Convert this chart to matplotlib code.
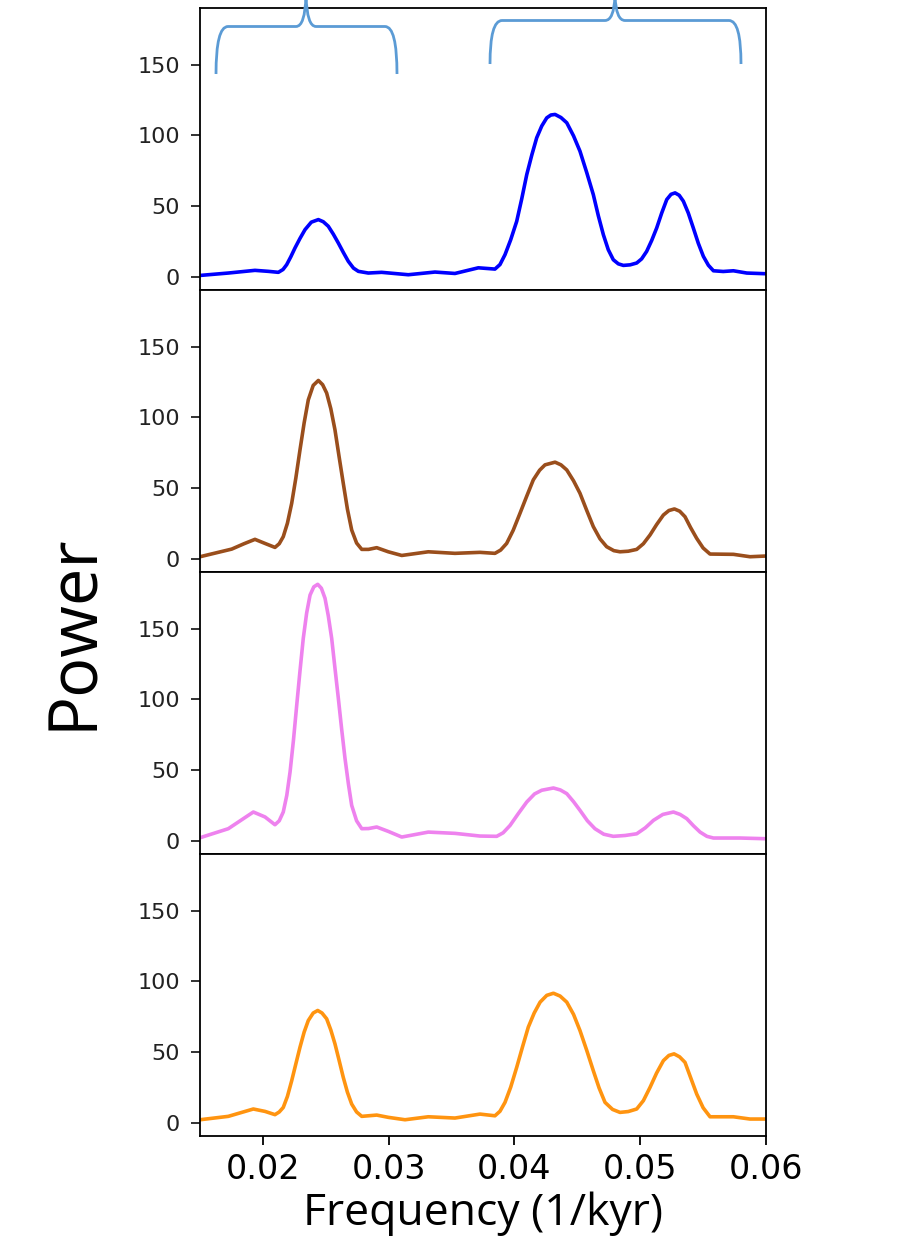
import matplotlib
matplotlib.use("Agg")
import matplotlib.pyplot as plt
from matplotlib.path import Path
from matplotlib.patches import PathPatch

# frequencies (1/kyr) and power
freq_blue = [0.015, 0.01725, 0.01937, 0.02043, 0.02123, 0.0216, 0.02189, 0.02222, 0.02255,
             0.02295, 0.02335, 0.02385, 0.02441, 0.0248, 0.0252, 0.0256, 0.026, 0.0264,
             0.02679, 0.0272, 0.02759, 0.02838, 0.02944, 0.03156, 0.03368, 0.03527, 0.03713,
             0.03845, 0.03885, 0.03925, 0.0397, 0.04018, 0.04058, 0.04098, 0.04138, 0.04177,
             0.04217, 0.04257, 0.0429, 0.04323, 0.0437, 0.04416, 0.0447, 0.04521, 0.04575,
             0.04627, 0.04667, 0.04707, 0.04746, 0.04786, 0.04826, 0.04866, 0.0492, 0.04972,
             0.05011, 0.05051, 0.05091, 0.05131, 0.05171, 0.05211, 0.05245, 0.05277, 0.0531,
             0.05343, 0.05382, 0.05422, 0.05462, 0.05502, 0.05542, 0.05582, 0.0566, 0.05741,
             0.05847, 0.06]
power_blue = [0.8, 2.5, 4.4, 3.7, 3.0, 5.0, 8.4, 14.0, 20.2,
              27.0, 33.2, 38.5, 40.3, 38.8, 35.6, 30.0, 23.7, 17.0,
              10.8, 6.0, 3.7, 2.5, 3.0, 1.3, 3.2, 2.2, 6.2,
              5.3, 8.5, 15.5, 26.0, 39.1, 55.0, 72.2, 86.0, 98.2,
              106.5, 112.3, 114.3, 114.7, 112.5, 108.8, 99.5, 88.7, 73.5,
              58.0, 43.0, 29.6, 19.0, 11.9, 9.0, 7.9, 8.3, 9.6,
              12.5, 17.8, 25.5, 34.4, 45.0, 54.5, 58.2, 59.2, 57.5,
              53.3, 45.0, 34.4, 23.5, 14.3, 8.0, 4.1, 3.6, 4.1,
              2.5, 2.0]

freq_brown = [0.015, 0.01752, 0.0185, 0.01937, 0.02017, 0.02096, 0.0213, 0.02162, 0.02195,
              0.02229, 0.02262, 0.02295, 0.02328, 0.02361, 0.024, 0.02441, 0.02475, 0.02507,
              0.0254, 0.02573, 0.02606, 0.02639, 0.02672, 0.02706, 0.02745, 0.02786, 0.0284,
              0.02905, 0.02997, 0.03104, 0.03315, 0.03527, 0.03726, 0.03845, 0.0389, 0.03938,
              0.0399, 0.04044, 0.04097, 0.0415, 0.042, 0.04243, 0.04323, 0.0437, 0.04416,
              0.0447, 0.04521, 0.04575, 0.04627, 0.0468, 0.04733, 0.0479, 0.04839, 0.04905,
              0.04972, 0.05025, 0.05078, 0.0513, 0.05184, 0.05228, 0.05272, 0.05314, 0.05356,
              0.054, 0.05449, 0.055, 0.05555, 0.05741, 0.05873, 0.06]
power_brown = [1.3, 6.7, 10.5, 13.6, 10.7, 7.9, 10.5, 15.5, 25.0,
               39.1, 57.0, 76.9, 96.0, 112.3, 122.5, 126.0, 123.0, 117.1,
               106.0, 91.1, 72.0, 53.3, 35.0, 20.2, 11.0, 6.5, 6.5,
               7.7, 4.8, 2.2, 4.8, 3.7, 4.4, 3.7, 6.0, 10.7,
               20.0, 32.0, 44.0, 55.7, 62.5, 66.3, 68.2, 66.3, 62.7,
               55.0, 46.2, 34.0, 22.6, 14.0, 8.4, 5.6, 4.8, 5.2,
               6.5, 10.5, 16.7, 24.0, 30.8, 34.0, 35.1, 33.5, 29.6,
               22.0, 14.3, 7.5, 3.2, 3.0, 1.3, 1.8]

freq_pink = [0.015, 0.01725, 0.01924, 0.02017, 0.02096, 0.0213, 0.02162, 0.0219, 0.02216,
             0.02243, 0.02269, 0.02295, 0.02321, 0.02348, 0.02375, 0.02405, 0.02436, 0.02465,
             0.02494, 0.0252, 0.02547, 0.02573, 0.026, 0.02626, 0.02653, 0.0268, 0.02706,
             0.02745, 0.02786, 0.0284, 0.02905, 0.02997, 0.03104, 0.03315, 0.03527, 0.03726,
             0.03859, 0.0391, 0.03965, 0.0403, 0.04098, 0.0416, 0.04217, 0.0431, 0.04365,
             0.04416, 0.0447, 0.04521, 0.0458, 0.0464, 0.0471, 0.04786, 0.0488, 0.04972,
             0.0504, 0.05105, 0.0518, 0.05264, 0.05317, 0.0537, 0.05423, 0.05476, 0.0553,
             0.05582, 0.05794, 0.06]
power_pink = [2.0, 8.4, 20.2, 16.7, 11.2, 14.0, 20.2, 32.0, 48.5,
              71.0, 95.8, 120.0, 143.0, 161.0, 173.7, 179.5, 181.3, 178.5,
              171.4, 159.0, 143.0, 122.0, 100.5, 79.0, 58.0, 40.0, 24.9,
              14.0, 8.4, 8.5, 9.6, 6.5, 2.5, 6.0, 5.1, 3.2,
              3.0, 5.5, 10.7, 19.0, 27.3, 33.0, 35.6, 37.2, 35.8,
              33.2, 27.5, 21.4, 14.0, 8.4, 4.5, 3.0, 3.6, 4.8,
              9.0, 14.3, 18.5, 20.2, 18.5, 15.5, 10.5, 6.0, 3.0,
              1.8, 1.8, 1.3]

freq_orange = [0.015, 0.01725, 0.01924, 0.02017, 0.02096, 0.0213, 0.02162, 0.02195, 0.02229,
               0.02262, 0.02295, 0.02328, 0.02361, 0.024, 0.02436, 0.0247, 0.02507, 0.0254,
               0.02573, 0.02606, 0.02639, 0.02672, 0.02706, 0.02745, 0.02786, 0.02905, 0.02997,
               0.0313, 0.03315, 0.03527, 0.03726, 0.03845, 0.03885, 0.03925, 0.0397, 0.04018,
               0.04064, 0.0411, 0.04157, 0.04204, 0.04257, 0.0431, 0.04363, 0.04416, 0.0447,
               0.04521, 0.04575, 0.04627, 0.04673, 0.0472, 0.0478, 0.04839, 0.04905, 0.04972,
               0.05025, 0.05078, 0.0513, 0.05184, 0.05228, 0.05269, 0.05313, 0.05356, 0.054,
               0.05449, 0.055, 0.05555, 0.05741, 0.05873, 0.06]
power_orange = [2.0, 4.4, 9.6, 7.9, 5.6, 7.5, 10.7, 18.5, 29.6,
                41.5, 53.3, 64.0, 72.2, 77.5, 79.3, 77.5, 73.4, 65.5,
                55.7, 44.0, 32.0, 21.5, 13.1, 7.5, 4.4, 5.3, 3.7,
                2.0, 4.1, 3.2, 6.0, 4.8, 8.0, 14.3, 25.0, 39.1,
                53.5, 67.5, 77.5, 85.2, 90.0, 91.5, 89.5, 85.2, 76.5,
                65.1, 51.0, 36.7, 24.5, 14.3, 9.3, 7.2, 7.8, 9.6,
                15.5, 24.9, 35.0, 43.8, 47.5, 48.6, 46.5, 42.6, 32.0,
                20.2, 10.5, 4.1, 4.1, 2.5, 2.5]

series = [(freq_blue, power_blue, "blue"),
          (freq_brown, power_brown, "#9a4e1c"),
          (freq_pink, power_pink, "violet"),
          (freq_orange, power_orange, "#ff9410")]

W, H = 924, 1254
fig, axes = plt.subplots(4, 1, sharex=True, sharey=True, figsize=(W / 100, H / 100), dpi=100)
fig.subplots_adjust(left=200 / W, right=766 / W, top=1 - 8 / H, bottom=1 - 1136 / H, hspace=0)

for ax, (f, p, c) in zip(axes, series):
    ax.plot(f, p, color=c, lw=2.6, solid_joinstyle="round")
    for s in ax.spines.values():
        s.set_linewidth(1.3)
    ax.tick_params(axis="y", labelsize=16, length=6.5, width=1.3, pad=8, colors="#222222")
    ax.tick_params(axis="x", labelsize=24, length=6.5, width=1.3, pad=6)
    ax.set_yticks([0, 50, 100, 150])

for ax in axes[:-1]:
    ax.tick_params(axis="x", bottom=False, labelbottom=False)

axes[0].set_xlim(0.015, 0.06)
axes[0].set_ylim(-9.5, 190)
axes[-1].set_xticks([0.02, 0.03, 0.04, 0.05, 0.06])
axes[-1].set_xlabel("Frequency (1/kyr)", family="Open Sans", fontsize=32, labelpad=4)

fig.text(74 / W, 1 - 632 / H, "Power", family="Open Sans", fontsize=48,
         rotation=90, ha="center", va="center")


# curly braces drawn in figure pixels (top-left origin)
def brace(x0, x1, xm, yb, yh, ytop, r=12, d=10):
    pts = [(x0, yb), (x0, yh), (x0 + r, yh),
           (xm - d, yh),
           (xm - 1, yh), (xm, ytop),
           (xm + 1, yh), (xm + d, yh),
           (x1 - r, yh),
           (x1, yh), (x1, yb)]
    codes = [Path.MOVETO, Path.CURVE3, Path.CURVE3,
             Path.LINETO,
             Path.CURVE3, Path.CURVE3,
             Path.CURVE3, Path.CURVE3,
             Path.LINETO,
             Path.CURVE3, Path.CURVE3]
    verts = [(x / W, 1 - y / H) for x, y in pts]
    patch = PathPatch(Path(verts, codes), fill=False, edgecolor="#5b9bd5",
                      lw=2.0, transform=fig.transFigure)
    fig.add_artist(patch)


brace(216, 397, 306, 74, 26.5, -4)
brace(490, 741, 615, 64, 20.5, -4)

fig.savefig("out.png", dpi=100)
